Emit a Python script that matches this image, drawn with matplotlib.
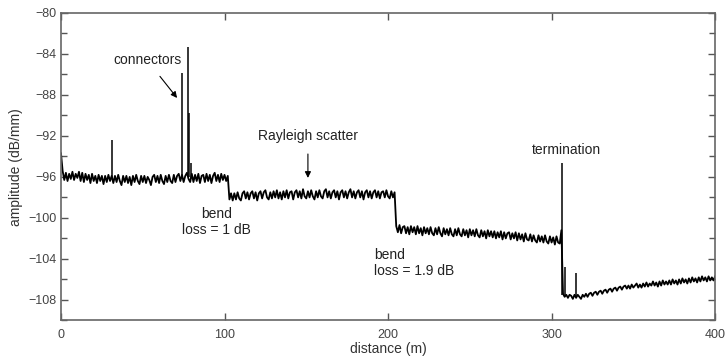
import numpy as np
import matplotlib.pyplot as plt
from matplotlib.ticker import MultipleLocator

plt.rcParams['font.family'] = ['Liberation Sans', 'DejaVu Sans']

# trace, 1 m steps
dist1 = np.arange(0, 103)
amp1 = [-93.7, -95.4, -96.3, -95.6, -96.4, -95.7, -96.2, -95.5, -96.3, -95.7,
        -96.1, -95.5, -96.4, -95.6, -96.5, -95.7, -96.3, -95.8, -96.6, -95.7,
        -96.4, -95.9, -96.6, -95.8, -96.4, -95.9, -96.7, -95.9, -96.5, -95.8,
        -96.4, -95.9, -96.6, -95.9, -96.5, -95.8, -96.4, -96.8, -95.9, -96.5,
        -95.9, -96.6, -96.0, -96.8, -95.9, -96.5, -95.8, -96.4, -96.7, -95.9,
        -96.5, -95.9, -96.6, -96.0, -96.3, -96.8, -96.0, -95.8, -96.5, -95.9,
        -96.6, -95.8, -96.4, -96.7, -95.9, -96.5, -95.8, -96.4, -96.6, -95.8,
        -96.5, -95.9, -95.7, -96.4, -95.8, -96.5, -95.9, -95.6, -96.2, -96.5,
        -95.7, -96.5, -95.8, -96.4, -95.7, -96.6, -95.9, -95.8, -96.5, -95.7,
        -96.4, -95.8, -96.6, -95.9, -95.6, -96.4, -95.8, -96.5, -95.7, -96.3,
        -95.8, -96.4, -95.9]

dist2 = np.arange(103, 205)
amp2 = [-98.2, -97.6, -98.3, -97.6, -98.2, -97.5, -98.1, -98.3, -97.6, -97.4,
        -98.1, -97.5, -98.2, -97.6, -97.4, -98.1, -97.5, -98.3, -97.6, -97.4,
        -98.1, -97.5, -97.3, -98.0, -98.2, -97.5, -98.1, -97.4, -98.0, -97.3,
        -98.1, -97.5, -98.2, -97.4, -98.0, -97.3, -98.1, -97.5, -97.4, -98.2,
        -97.5, -97.3, -98.0, -97.4, -98.1, -97.2, -97.9, -98.1, -97.4, -98.0,
        -97.3, -97.9, -98.2, -97.4, -98.0, -97.3, -97.9, -98.1, -97.4, -97.2,
        -98.0, -97.4, -98.1, -97.5, -97.3, -98.0, -97.4, -98.2, -97.5, -97.3,
        -98.0, -97.4, -98.1, -97.5, -97.2, -98.0, -97.4, -98.1, -97.5, -97.3,
        -98.0, -97.4, -98.2, -97.5, -97.3, -98.0, -97.4, -98.1, -97.5, -97.3,
        -98.0, -97.4, -98.1, -97.5, -97.4, -98.0, -97.3, -97.9, -98.1, -97.4,
        -98.0, -97.5]

dist3 = np.arange(205, 307)
amp3 = [-100.8, -101.4, -100.7, -101.5, -100.9, -100.8, -101.5, -100.9, -101.6, -100.8,
        -101.4, -100.9, -101.6, -100.8, -101.5, -101.0, -101.7, -100.9, -101.5, -101.0,
        -101.6, -100.9, -101.5, -101.7, -101.0, -101.6, -100.9, -101.5, -101.8, -101.0,
        -101.6, -101.1, -101.7, -101.0, -101.6, -101.8, -101.1, -101.7, -101.0, -101.6,
        -101.8, -101.1, -101.7, -101.2, -101.9, -101.1, -101.7, -101.2, -101.8, -101.1,
        -101.7, -101.9, -101.2, -101.8, -101.3, -102.0, -101.2, -101.8, -101.3, -101.9,
        -101.3, -102.0, -101.4, -101.9, -101.3, -102.1, -101.4, -102.0, -101.5, -101.4,
        -102.1, -101.5, -102.0, -101.4, -102.2, -101.5, -102.1, -101.6, -102.3, -101.5,
        -102.1, -102.2, -101.6, -102.3, -101.7, -102.2, -102.4, -101.7, -102.3, -101.8,
        -102.4, -101.7, -102.3, -102.5, -101.8, -102.4, -101.9, -102.6, -101.8, -102.4,
        -102.5, -101.2]

dist4 = np.arange(307, 401)
amp4 = [-107.4, -107.7, -107.5, -107.8, -107.5, -107.6, -107.9, -107.5, -107.8, -107.5,
        -107.7, -107.9, -107.5, -107.7, -107.4, -107.7, -107.4, -107.3, -107.6, -107.3,
        -107.2, -107.5, -107.2, -107.1, -107.4, -107.1, -107.0, -107.3, -107.0, -106.9,
        -107.2, -106.9, -106.8, -107.1, -106.8, -106.7, -107.0, -106.7, -106.6, -106.9,
        -106.6, -106.9, -106.5, -106.8, -106.6, -106.4, -106.8, -106.5, -106.8, -106.4,
        -106.7, -106.3, -106.7, -106.4, -106.6, -106.2, -106.6, -106.3, -106.7, -106.2,
        -106.6, -106.1, -106.5, -106.2, -106.5, -106.1, -106.5, -106.0, -106.4, -106.1,
        -106.5, -106.0, -106.4, -105.9, -106.3, -106.0, -106.4, -105.9, -106.3, -105.8,
        -106.2, -105.9, -106.3, -105.8, -106.2, -105.7, -106.1, -105.8, -106.2, -105.7,
        -106.1, -105.8, -106.1, -105.7]

# narrow reflection peaks
spike_x = [31.2, 73.8, 77.9, 78.3, 79.3, 306.6, 308.2, 314.8]
spike_base = [-96.1, -96.0, -96.0, -96.0, -96.1, -107.5, -107.6, -107.6]
spike_top = [-92.4, -85.9, -83.3, -89.8, -94.6, -94.6, -104.8, -105.4]

dist = np.concatenate([dist1, dist2, dist3, dist4])
amp = np.concatenate([amp1, amp2, amp3, amp4])

fig = plt.figure(figsize=(7.26, 3.58), dpi=100)
ax = fig.add_axes([0.084, 0.105, 0.901, 0.859])

ax.plot(dist, amp, color='black', linewidth=1.3)
ax.vlines(spike_x, spike_base, spike_top, color='black', linewidth=1.1)

ax.set_xlim(0, 400)
ax.set_ylim(-110, -80)
ax.set_xticks([0, 100, 200, 300, 400])
ax.set_yticks(np.arange(-108, -79, 4))
ax.yaxis.set_minor_locator(MultipleLocator(2))
ax.tick_params(which='both', direction='in', top=True, right=True,
               color='#555555', labelsize=9, labelcolor='#444444')
ax.tick_params(which='major', length=5, width=1)
ax.tick_params(which='minor', length=4, width=1)
ax.tick_params(axis='y', pad=3)
ax.tick_params(axis='x', pad=6)
for s in ax.spines.values():
    s.set_color('#666666')
    s.set_linewidth(1.2)

ax.set_xlabel('distance (m)', fontsize=10, color='#333333', labelpad=1)
ax.set_ylabel('amplitude (dB/mm)', fontsize=10, color='#333333', labelpad=4)

txt = dict(fontsize=10, color='#222222')
ax.annotate('connectors', xy=(71, -88.3), xytext=(52.6, -84.6), ha='center', va='center',
            arrowprops=dict(arrowstyle='-|>', color='black', lw=0.8,
                            shrinkA=6, shrinkB=0, mutation_scale=9), **txt)
ax.annotate('Rayleigh scatter', xy=(151, -96.1), xytext=(151, -92.0), ha='center', va='center',
            arrowprops=dict(arrowstyle='-|>', color='black', lw=0.8,
                            shrinkA=6, shrinkB=0, mutation_scale=9), **txt)
ax.text(95.2, -100.4, 'bend\nloss = 1 dB', ha='center', va='center', linespacing=1.25, **txt)
ax.text(191.5, -104.4, 'bend\nloss = 1.9 dB', ha='left', va='center', linespacing=1.25, **txt)
ax.text(309, -93.4, 'termination', ha='center', va='center', **txt)

fig.savefig('out.png', dpi=100)
